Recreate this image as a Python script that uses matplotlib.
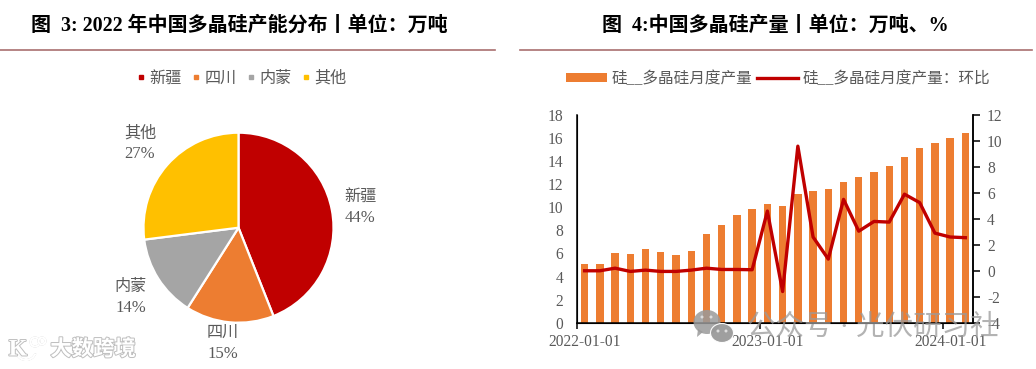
import matplotlib
matplotlib.use("Agg")
import matplotlib.pyplot as plt
import matplotlib.patheffects as pe
from matplotlib.lines import Line2D
from matplotlib.patches import Arc, Ellipse, Polygon

plt.rcParams['font.family'] = ['Liberation Serif', 'Noto Sans CJK SC']
plt.rcParams['axes.unicode_minus'] = False

W, H = 1036, 369
GREY = '#595959'
RED = '#C00000'
ORANGE = '#ED7D31'

# left chart
regions = ['新疆', '四川', '内蒙', '其他']
shares = [44, 15, 14, 27]
pie_colors = [RED, ORANGE, '#A5A5A5', '#FFC000']

# right chart
months = ['2022-01-01', '2022-02-01', '2022-03-01', '2022-04-01', '2022-05-01', '2022-06-01',
          '2022-07-01', '2022-08-01', '2022-09-01', '2022-10-01', '2022-11-01', '2022-12-01',
          '2023-01-01', '2023-02-01', '2023-03-01', '2023-04-01', '2023-05-01', '2023-06-01',
          '2023-07-01', '2023-08-01', '2023-09-01', '2023-10-01', '2023-11-01', '2023-12-01',
          '2024-01-01', '2024-02-01']
output = [5.05, 5.05, 6.0, 5.95, 6.4, 6.15, 5.85, 6.2, 7.65, 8.5, 9.35, 9.85, 10.3,
          10.15, 11.15, 11.45, 11.55, 12.2, 12.6, 13.1, 13.55, 14.4, 15.1, 15.6, 16.0, 16.4]
mom = [0.0, 0.0, 0.2, -0.05, 0.05, -0.05, -0.05, 0.05, 0.2, 0.1, 0.1, 0.08, 4.6,
       -1.6, 9.6, 2.6, 0.9, 5.5, 3.05, 3.8, 3.75, 5.9, 5.25, 2.9, 2.6, 2.55]


def px_axes(left, top, right, bottom):
    return fig.add_axes([left / W, 1 - bottom / H, (right - left) / W, (bottom - top) / H])


fig = plt.figure(figsize=(W / 100, H / 100), dpi=100)

# page layer in pixel coords: titles, rules
page = fig.add_axes([0, 0, 1, 1], zorder=0)
page.set_xlim(0, W)
page.set_ylim(H, 0)
page.axis('off')
page.text(239.5, 26, '图  3: 2022 年中国多晶硅产能分布丨单位：万吨', ha='center', va='center',
          fontsize=14.4, fontweight='bold', color='black')
page.text(775.5, 26, '图  4:中国多晶硅产量丨单位：万吨、%', ha='center', va='center',
          fontsize=14.4, fontweight='bold', color='black')
page.plot([0, 495], [50, 50], color='#A96F6F', lw=1.2)
page.plot([520, 1032], [50, 50], color='#A96F6F', lw=1.2)

# pie
r = 95
ax1 = px_axes(238.5 - 120, 227.7 - 120, 238.5 + 120, 227.7 + 120)
wedges, _ = ax1.pie(shares, colors=pie_colors, startangle=90, counterclock=False, radius=1,
                    wedgeprops={'edgecolor': 'white', 'linewidth': 1.6})
ax1.set_xlim(-120 / r, 120 / r)
ax1.set_ylim(-120 / r, 120 / r)

label_px = [(360, 207), (222.7, 343.5), (131, 298), (140, 144)]
for name, val, (lx, ly) in zip(regions, shares, label_px):
    page.text(lx, ly - 10.5, name, ha='center', va='center', fontsize=11.6, color=GREY)
    page.text(lx, ly + 10.5, f'{val}%', ha='center', va='center', fontsize=12, color=GREY)

handles = [Line2D([], [], ls='', marker='s', ms=3.4, color=c) for c in pie_colors]
fig.legend(handles, regions, loc='center', bbox_to_anchor=(242 / W, 1 - 79 / H), ncol=4,
           frameon=False, fontsize=11.6, labelcolor=GREY, handlelength=0.45, handletextpad=0.3,
           columnspacing=0.65)

# bars + line
ax2 = px_axes(577, 115, 973, 322.7)
x = list(range(len(months)))
bars = ax2.bar(x, output, width=0.48, color=ORANGE, zorder=2)
ax2.set_xlim(-0.5, 25.5)
ax2.set_ylim(0, 18)
ax2.set_yticks(range(0, 19, 2))
ax2.tick_params(axis='y', length=0, labelsize=11.2, labelcolor=GREY, pad=10)
ax2.set_xticks([-0.5, 11.5, 23.5])
ax2.set_xticklabels([])
ax2.set_xticks(x[::12], months[::12], minor=True)
ax2.tick_params(axis='x', which='major', length=4, width=1.1, direction='out')
ax2.tick_params(axis='x', which='minor', length=0, labelsize=11.2, labelcolor=GREY, pad=8)
ax2.spines['top'].set_visible(False)
for s in ('left', 'bottom', 'right'):
    ax2.spines[s].set_linewidth(1.1)

ax3 = ax2.twinx()
line, = ax3.plot(x, mom, color=RED, lw=2.4, solid_joinstyle='round', zorder=3)
ax3.set_ylim(-4, 12)
ax3.set_yticks(range(-4, 13, 2))
ax3.tick_params(axis='y', length=5, width=1.1, direction='out', labelsize=11.2, labelcolor=GREY, pad=5)
ax3.spines['top'].set_visible(False)
ax3.spines['right'].set_linewidth(1.1)

fig.legend([bars, line], ['硅__多晶硅月度产量', '硅__多晶硅月度产量：环比'], loc='center',
           bbox_to_anchor=(778 / W, 1 - 79 / H), ncol=2, frameon=False, fontsize=11.25,
           labelcolor=GREY, handlelength=2.6, handleheight=0.45, handletextpad=0.3,
           columnspacing=0.3)

# watermarks on top
top = fig.add_axes([0, 0, 1, 1], zorder=10)
top.set_xlim(0, W)
top.set_ylim(H, 0)
top.axis('off')
top.patch.set_alpha(0)
mark = '#9A9A9A'
top.add_patch(Ellipse((707, 322), 27, 24, color=mark, alpha=0.85, lw=0))
top.add_patch(Polygon([[698, 329], [703, 332], [697, 337]], color=mark, alpha=0.85, lw=0))
top.add_patch(Ellipse((722, 333), 23, 19, fc=mark, ec='white', lw=0.8, alpha=0.95))
for ex, ey in [(702, 317), (711, 317), (718, 331), (726, 331)]:
    top.add_patch(Ellipse((ex, ey), 3, 3, color='#DDDDDD', lw=0))
top.text(873, 328, '公众号 · 光伏研习社', ha='center', va='center', fontsize=20.5,
         color=mark, alpha=0.75)

halo = [pe.withStroke(linewidth=1.4, foreground='#BEBEBE')]
top.text(93, 350, '大数跨境', ha='center', va='center', fontsize=15.4, fontweight='bold',
         color='white', path_effects=halo)
top.text(18, 350, 'K', ha='center', va='center', fontsize=17, fontweight='bold',
         color='white', path_effects=halo)
top.add_patch(Arc((26, 350), 20, 20, theta1=20, theta2=150, ec='white', lw=1.6, path_effects=halo))
top.add_patch(Ellipse((35, 342), 9, 9, fc='none', ec='white', lw=1.6, path_effects=halo))
top.add_patch(Ellipse((42, 341), 7, 7, fc='none', ec='white', lw=1.6, path_effects=halo))

fig.savefig('out.png', dpi=100)
